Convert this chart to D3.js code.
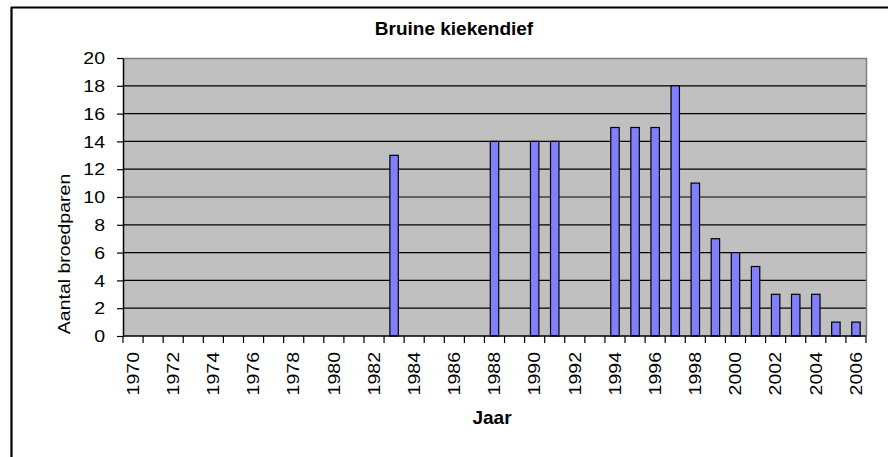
<!DOCTYPE html>
<html>
<head>
<meta charset="utf-8">
<script src="https://cdn.jsdelivr.net/npm/d3@7"></script>
<style>
  body { margin: 0; background: #fff; }
  text { font-family: Arial, "Liberation Sans", sans-serif; fill: #000; }
</style>
</head>
<body>
<script>
var title = "Bruine kiekendief";
var yLabel = "Aantal broedparen";
var xLabel = "Jaar";

// all categories on the axis
var years = d3.range(1970, 2007);
// years with a count, and the counts
var dataYears = [1983, 1988, 1990, 1991, 1994, 1995, 1996, 1997, 1998, 1999, 2000, 2001, 2002, 2003, 2004, 2005, 2006];
var pairs = [13, 14, 14, 14, 15, 15, 15, 18, 11, 7, 6, 5, 3, 3, 3, 1, 1];
var yTicks = [0, 2, 4, 6, 8, 10, 12, 14, 16, 18, 20];
var xTickLabels = years.filter(function (d) { return d % 2 === 0; });

var bars = dataYears.map(function (y, i) { return { year: y, value: pairs[i] }; });

var w = 888, h = 457;
var plot = { left: 123, top: 58, right: 866, bottom: 336 };
var stretch = 1.22;
var fs = "16px";

var svg = d3.select("body").append("svg")
  .attr("width", w).attr("height", h);

// outer chart border (only top and left visible)
svg.append("line").attr("x1", 11).attr("x2", w).attr("y1", 7.5).attr("y2", 7.5)
  .attr("stroke", "#000").attr("stroke-width", 2.2);
svg.append("line").attr("x1", 11.5).attr("x2", 11.5).attr("y1", 7).attr("y2", h)
  .attr("stroke", "#000").attr("stroke-width", 2.2);

var x = d3.scaleBand()
  .domain(years)
  .range([plot.left, plot.right])
  .paddingInner(0.58)
  .paddingOuter(0.29);

var xCat = d3.scaleBand()
  .domain(years)
  .range([plot.left, plot.right])
  .padding(0);

var y = d3.scaleLinear()
  .domain([0, 20])
  .range([plot.bottom, plot.top]);

// plot area
svg.append("rect")
  .attr("x", plot.left).attr("y", plot.top)
  .attr("width", plot.right - plot.left).attr("height", plot.bottom - plot.top)
  .attr("fill", "#C0C0C0");

// gridlines
svg.selectAll(".grid")
  .data(yTicks.filter(function (d) { return d > 0 && d < 20; }))
  .enter().append("line")
  .attr("class", "grid")
  .attr("x1", plot.left).attr("x2", plot.right)
  .attr("y1", function (d) { return y(d); })
  .attr("y2", function (d) { return y(d); })
  .attr("stroke", "#000").attr("stroke-width", 1.2);

// top and right plot border
svg.append("path")
  .attr("d", "M" + plot.left + "," + (plot.top + 0.5) + "H" + (plot.right + 0.5) + "V" + plot.bottom)
  .attr("fill", "none").attr("stroke", "#808080").attr("stroke-width", 1.5);

// bars
svg.selectAll(".bar")
  .data(bars)
  .enter().append("rect")
  .attr("class", "bar")
  .attr("x", function (d) { return x(d.year); })
  .attr("y", function (d) { return y(d.value); })
  .attr("width", x.bandwidth())
  .attr("height", function (d) { return y(0) - y(d.value); })
  .attr("fill", "#8080FF")
  .attr("stroke", "#000")
  .attr("stroke-width", 1.2);

// y axis
var yAxis = svg.append("g")
  .attr("transform", "translate(" + plot.left + ",0)")
  .call(d3.axisLeft(y).tickValues(yTicks).tickSize(6).tickSizeOuter(0).tickPadding(0));
yAxis.select(".domain").attr("stroke", "#000").attr("stroke-width", 1.5);
yAxis.selectAll(".tick line").attr("stroke", "#000").attr("stroke-width", 1.2);
yAxis.selectAll(".tick text")
  .attr("x", 0)
  .attr("font-size", fs)
  .attr("font-family", "Arial, 'Liberation Sans', sans-serif")
  .attr("text-anchor", "end")
  .attr("dy", "0.36em")
  .attr("transform", "translate(-18,0) scale(" + stretch + ",1)");

// x axis: boundary ticks
var boundaries = years.map(function (d) { return xCat(d); }).concat([xCat(years[years.length - 1]) + xCat.step()]);
svg.selectAll(".xtick")
  .data(boundaries)
  .enter().append("line")
  .attr("class", "xtick")
  .attr("x1", function (d) { return d; }).attr("x2", function (d) { return d; })
  .attr("y1", plot.bottom).attr("y2", plot.bottom + 7)
  .attr("stroke", "#000").attr("stroke-width", 1.2);

svg.append("line")
  .attr("x1", plot.left).attr("x2", plot.right)
  .attr("y1", plot.bottom).attr("y2", plot.bottom)
  .attr("stroke", "#000").attr("stroke-width", 1.5);

// x labels
svg.selectAll(".xlabel")
  .data(xTickLabels)
  .enter().append("text")
  .attr("class", "xlabel")
  .attr("transform", function (d) {
    return "translate(" + (xCat(d) + xCat.bandwidth() / 2) + "," + 352 + ") rotate(-90) scale(" + stretch + ",1)";
  })
  .attr("text-anchor", "end")
  .attr("dy", "0.36em")
  .attr("font-size", fs)
  .text(function (d) { return d; });

// title
svg.append("text")
  .attr("x", 454).attr("y", 35)
  .attr("text-anchor", "middle")
  .attr("font-size", "19px")
  .attr("font-weight", "bold")
  .text(title);

// axis titles
svg.append("text")
  .attr("x", 492).attr("y", 424)
  .attr("text-anchor", "middle")
  .attr("font-size", "19px")
  .attr("font-weight", "bold")
  .text(xLabel);

svg.append("text")
  .attr("transform", "translate(64,254) rotate(-90) scale(" + stretch + ",1)")
  .attr("text-anchor", "middle")
  .attr("dy", "0.36em")
  .attr("font-size", fs)
  .text(yLabel);
</script>
</body>
</html>
